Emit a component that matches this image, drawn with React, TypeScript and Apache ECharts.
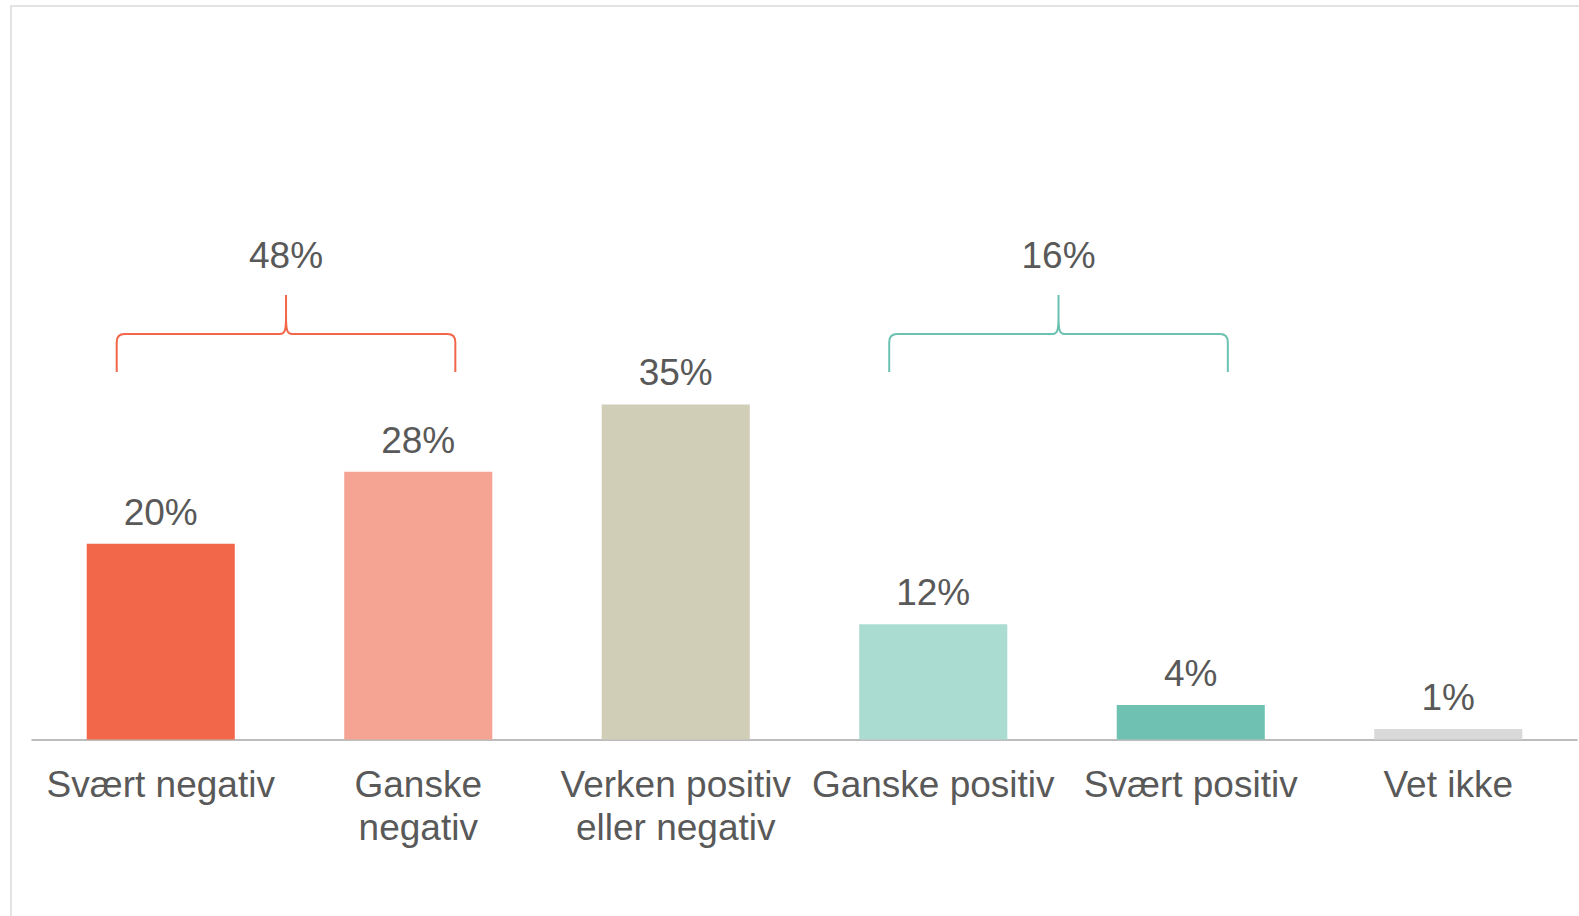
import React, { useEffect, useRef } from "react";
import * as echarts from "echarts";

const categories = ["Svært negativ", "Ganske\nnegativ", "Verken positiv\neller negativ", "Ganske positiv", "Svært positiv", "Vet ikke"];
const values = [20.4, 27.9, 34.9, 12.0, 3.6, 1.1];
const barColors = ["#F26649", "#F5A494", "#D1CEB8", "#AADCD2", "#6FC2B2", "#D9D9D9"];
// brace groups: [first category index, last category index]
const groupStart = [0, 3];
const groupEnd = [1, 4];
const groupColors = ["#F26649", "#6CC2B0"];

const TEXT = "#595959";
const FONT = "'Liberation Sans', Arial, sans-serif";

export default function App() {
  const ref = useRef<HTMLDivElement>(null);
  useEffect(() => {
    const chart = echarts.init(ref.current!, null, { renderer: "svg" });
    const groupData = groupStart.map((s, i) => {
      let total = 0;
      for (let k = s; k <= groupEnd[i]; k++) total += values[k];
      return [s, groupEnd[i], total, i];
    });
    chart.setOption({
      animation: false,
      backgroundColor: "#ffffff",
      graphic: [
        {
          type: "rect",
          shape: { x: 11, y: 6, width: 1700, height: 1000 },
          style: { fill: "none", stroke: "#E3E3E3", lineWidth: 2 },
          silent: true,
        },
      ],
      grid: { left: 32, right: 2, top: 259.5, bottom: 176.5, containLabel: false },
      xAxis: {
        type: "category",
        data: categories,
        axisLine: { show: true, lineStyle: { color: "#A6A6A6", width: 1.5 } },
        axisTick: { show: false },
        axisLabel: {
          interval: 0,
          color: TEXT,
          fontSize: 37,
          fontFamily: FONT,
          lineHeight: 43,
          margin: 23,
        },
      },
      yAxis: { type: "value", min: 0, max: 50, show: false, splitLine: { show: false } },
      series: [
        {
          type: "bar",
          barWidth: "57.5%",
          data: values.map((v, i) => ({ value: v, itemStyle: { color: barColors[i] } })),
          label: {
            show: true,
            position: "top",
            distance: 13,
            color: TEXT,
            fontSize: 37,
            fontFamily: FONT,
            formatter: (p: any) => Math.round(p.value) + "%",
          },
        },
        {
          type: "custom",
          clip: false,
          data: groupData,
          encode: { x: [0, 1] },
          renderItem: (params: any, api: any) => {
            const s = api.value(0);
            const e = api.value(1);
            const total = api.value(2);
            const ci = api.value(3);
            const band = api.size([1, 0])[0];
            const xs = api.coord([s, 0])[0] - 0.171 * band;
            const xe = api.coord([e, 0])[0] + 0.144 * band;
            const xm = (xs + xe) / 2;
            const bottom = 372;
            const h = 334;
            const tip = 295;
            const r = 8;
            const r2 = 6;
            const d =
              `M${xs},${bottom} L${xs},${h + r} Q${xs},${h} ${xs + r},${h} L${xm - r2},${h} C${xm - 1},${h} ${xm},${h - 4} ${xm},${h - 18} L${xm},${tip} ` +
              `M${xm},${h - 18} C${xm},${h - 4} ${xm + 1},${h} ${xm + r2},${h} L${xe - r},${h} Q${xe},${h} ${xe},${h + r} L${xe},${bottom}`;
            return {
              type: "group",
              children: [
                {
                  type: "path",
                  shape: { pathData: d },
                  style: { fill: "none", stroke: groupColors[ci], lineWidth: 2 },
                },
                {
                  type: "text",
                  x: xm,
                  y: 255,
                  style: {
                    text: Math.round(total) + "%",
                    fill: TEXT,
                    font: `37px ${FONT}`,
                    align: "center",
                    verticalAlign: "middle",
                  },
                },
              ],
            };
          },
        },
      ],
    });
    return () => chart.dispose();
  }, []);
  return <div ref={ref} style={{ position: "absolute", left: 0, top: 0, width: 1579, height: 916 }} />;
}
